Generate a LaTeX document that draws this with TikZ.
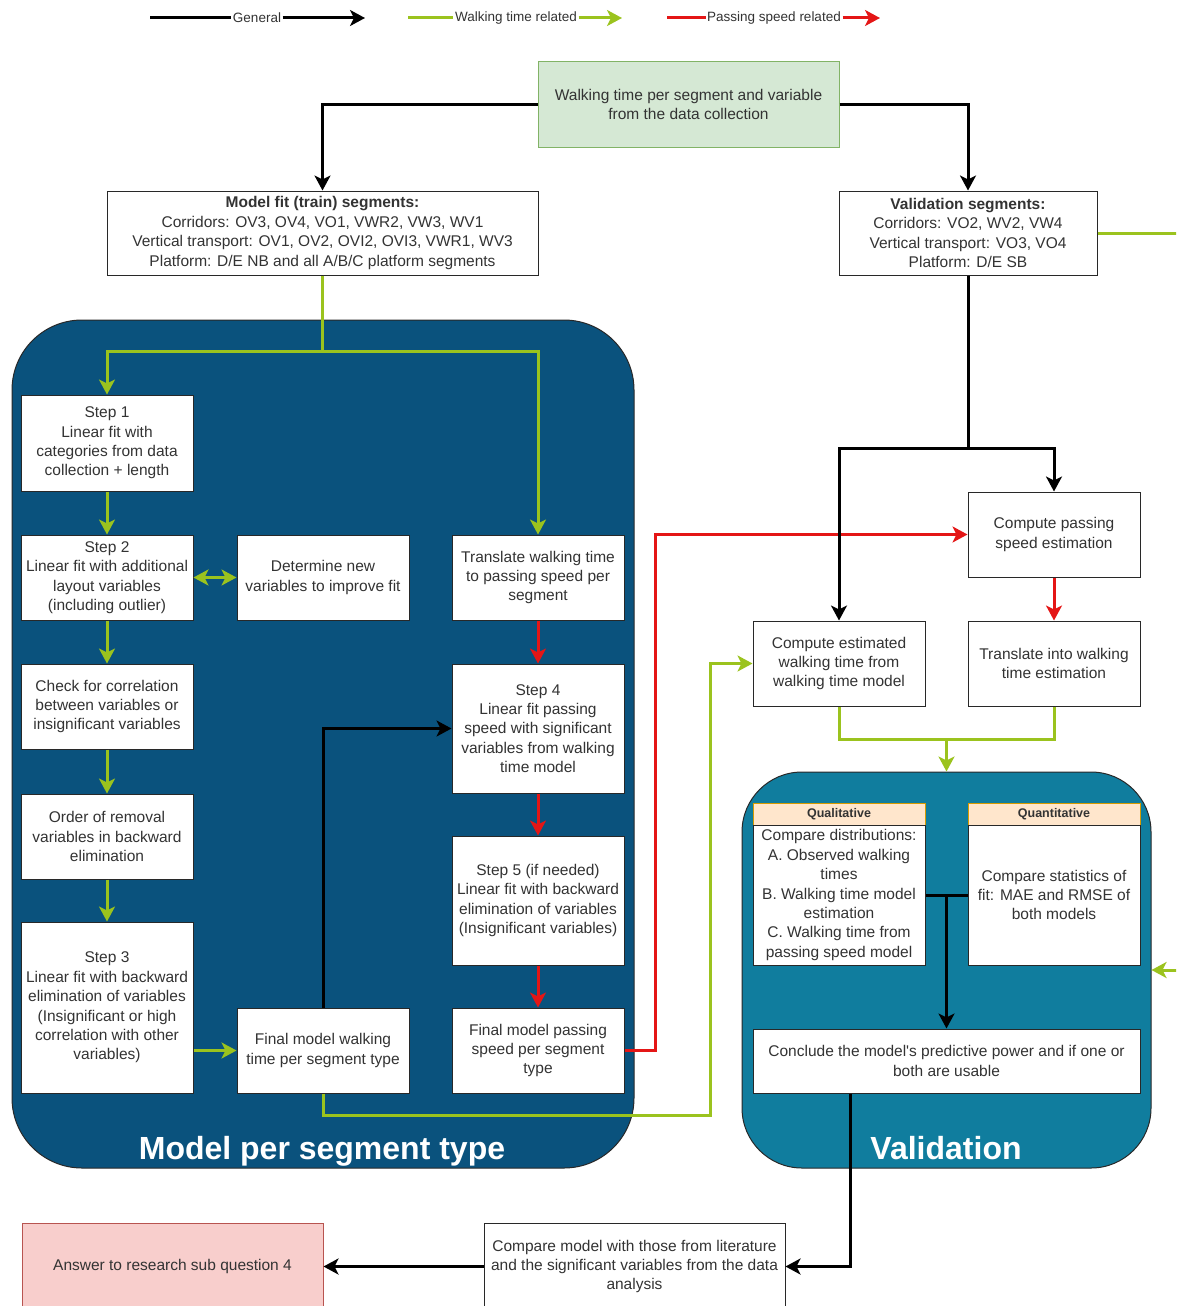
\documentclass[tikz,border=0pt]{standalone}
\usepackage{fontspec}
\setmainfont{Liberation Sans}[Ligatures=TeXOff]
\usetikzlibrary{arrows.meta,calc}
\definecolor{gr}{RGB}{155,195,30}
\definecolor{rd}{RGB}{228,22,22}
\definecolor{txt}{RGB}{51,51,51}
\definecolor{boxline}{RGB}{40,40,40}
\definecolor{lpanel}{RGB}{10,82,125}
\definecolor{vpanel}{RGB}{16,125,158}
\definecolor{srcfill}{RGB}{213,232,212}
\definecolor{srcline}{RGB}{130,179,102}
\definecolor{ansfill}{RGB}{248,206,204}
\definecolor{ansline}{RGB}{184,84,80}
\definecolor{hdfill}{RGB}{255,230,204}
\definecolor{hdline}{RGB}{215,155,0}
\tikzset{
  bx/.style={draw=boxline, fill=white, line width=1pt, align=center, inner sep=1pt,
    text=txt, font=\fontsize{15.5}{19.4}\selectfont},
  hd/.style={draw=hdline, fill=hdfill, line width=1pt, align=center, inner sep=1pt,
    text=txt, font=\bfseries\fontsize{12.5}{15}\selectfont},
  panel/.style={draw=boxline, line width=1pt},
  ptitle/.style={text=white, font=\bfseries\fontsize{32}{38}\selectfont, text height=23pt, text depth=7pt},
  legtext/.style={fill=white, inner sep=1.5pt, text=txt, font=\fontsize{13.5}{16}\selectfont},
  tip/.style={-{Stealth[length=15pt,width=16pt,inset=4pt]}},
  kline/.style={draw=black, line width=3pt},
  gline/.style={draw=gr, line width=3pt},
  rline/.style={draw=rd, line width=3pt},
  karrow/.style={kline, tip},
  garrow/.style={gline, tip},
  rarrow/.style={rline, tip},
}
\begin{document}
\begin{tikzpicture}[x=1pt,y=-1pt]
\useasboundingbox (0,0) rectangle (1176,1306);
\clip (0,0) rectangle (1176,1306);

% legend
\coordinate (l1a) at (150,18); \coordinate (l1b) at (365,18);
\coordinate (l2a) at (408,18); \coordinate (l2b) at (622,18);
\coordinate (l3a) at (667,18); \coordinate (l3b) at (880,18);
\node[legtext] (lg1) at (257,18) {General};
\node[legtext] (lg2) at (516,18) {Walking time related};
\node[legtext] (lg3) at (774,18) {Passing speed related};
\draw[kline] (l1a) -- (lg1.west);
\draw[karrow] (lg1.east) -- (l1b);
\draw[gline] (l2a) -- (lg2.west);
\draw[garrow] (lg2.east) -- (l2b);
\draw[rline] (l3a) -- (lg3.west);
\draw[rarrow] (lg3.east) -- (l3b);

% panels
\node[panel, fill=lpanel, rounded corners=70pt, minimum width=622pt, minimum height=848pt] (lpan) at (323,744) {};
\node[panel, fill=vpanel, rounded corners=60pt, minimum width=409pt, minimum height=396pt] (vpan) at (946.5,970) {};
\node[ptitle] (t1) at (322,1151) {Model per segment type};
\node[ptitle] (t2) at (946,1151) {Validation};

% top nodes
\node[bx, fill=srcfill, draw=srcline, minimum width=301pt, minimum height=85pt] (src) at (688.5,104.5)
  {Walking time per segment and variable\\from the data collection};
\node[bx, minimum width=431pt, minimum height=84pt] (train) at (322.5,233)
  {\textbf{Model fit (train) segments:}\\Corridors: OV3, OV4, VO1, VWR2, VW3, WV1\\Vertical transport: OV1, OV2, OVI2, OVI3, VWR1, WV3\\Platform: D/E NB and all A/B/C platform segments};
\node[bx, minimum width=258pt, minimum height=84pt] (val) at (968,233)
  {\textbf{Validation segments:}\\Corridors: VO2, WV2, VW4\\Vertical transport: VO3, VO4\\Platform: D/E SB};

% left panel nodes
\node[bx, minimum width=172pt, minimum height=96pt] (step1) at (107,443)
  {Step 1\\Linear fit with\\categories from data\\collection + length};
\node[bx, minimum width=172pt, minimum height=85pt] (step2) at (107,577.5)
  {Step 2\\Linear fit with additional\\layout variables\\(including outlier)};
\node[bx, minimum width=172pt, minimum height=85pt] (det) at (323,577.5)
  {Determine new\\variables to improve fit};
\node[bx, minimum width=172pt, minimum height=85pt] (corr) at (107,706.5)
  {Check for correlation\\between variables or\\insignificant variables};
\node[bx, minimum width=172pt, minimum height=85pt] (order) at (107,836.5)
  {Order of removal\\variables in backward\\elimination};
\node[bx, minimum width=172pt, minimum height=171pt] (step3) at (107,1007.5)
  {Step 3\\Linear fit with backward\\elimination of variables\\(Insignificant or high\\correlation with other\\variables)};
\node[bx, minimum width=172pt, minimum height=85pt] (finwalk) at (323,1050.5)
  {Final model walking\\time per segment type};
\node[bx, minimum width=172pt, minimum height=85pt] (trans) at (538,577.5)
  {Translate walking time\\to passing speed per\\segment};
\node[bx, minimum width=172pt, minimum height=129pt] (step4) at (538,728.5)
  {Step 4\\Linear fit passing\\speed with significant\\variables from walking\\time model};
\node[bx, minimum width=172pt, minimum height=129pt] (step5) at (538,900.5)
  {Step 5 (if needed)\\Linear fit with backward\\elimination of variables\\(Insignificant variables)};
\node[bx, minimum width=172pt, minimum height=85pt] (finpass) at (538,1050.5)
  {Final model passing\\speed per segment\\type};

% right side nodes
\node[bx, minimum width=172pt, minimum height=85pt] (cps) at (1054,534.5)
  {Compute passing\\speed estimation};
\node[bx, minimum width=172pt, minimum height=85pt] (tiw) at (1054,663.5)
  {Translate into walking\\time estimation};
\node[bx, minimum width=172pt, minimum height=85pt] (cew) at (839,663.5)
  {Compute estimated\\walking time from\\walking time model};
\node[hd, minimum width=172pt, minimum height=22pt] (qualh) at (839,814) {Qualitative};
\node[bx, minimum width=172pt, minimum height=140pt] (qualb) at (839,895)
  {Compare distributions:\\A. Observed walking\\times\\B. Walking time model\\estimation\\C. Walking time from\\passing speed model};
\node[hd, minimum width=172pt, minimum height=22pt] (quanth) at (1054,814) {Quantitative};
\node[bx, minimum width=172pt, minimum height=140pt] (quantb) at (1054,895)
  {Compare statistics of\\fit: MAE and RMSE of\\both models};
\node[bx, minimum width=387pt, minimum height=64pt] (concl) at (946.5,1061)
  {Conclude the model's predictive power and if one or\\both are usable};

% bottom nodes
\node[bx, minimum width=301pt, minimum height=87pt] (compare) at (634.5,1266.5)
  {Compare model with those from literature\\and the significant variables from the data\\analysis};
\node[bx, fill=ansfill, draw=ansline, minimum width=301pt, minimum height=87pt] (answer) at (172.5,1266.5)
  {Answer to research sub question 4};

% connectors: top
\draw[karrow] (src.west) -| (train.north);
\draw[karrow] (src.east) -| (val.north);

% green split into left panel
\coordinate (gsplit) at (322.5,351);
\draw[gline] (train.south) -- (gsplit);
\draw[garrow] (gsplit) -| (step1.north);
\draw[garrow] (gsplit) -| (trans.north);

\draw[garrow] (step1.south) -- (step2.north);
\draw[gline, {Stealth[length=15pt,width=16pt,inset=4pt]}-{Stealth[length=15pt,width=16pt,inset=4pt]}] (step2.east) -- (det.west);
\draw[garrow] (step2.south) -- (corr.north);
\draw[garrow] (corr.south) -- (order.north);
\draw[garrow] (order.south) -- (step3.north);
\draw[garrow] (step3.east |- finwalk.west) -- (finwalk.west);

\draw[karrow] (finwalk.north) |- (step4.west);
\draw[rarrow] (trans.south) -- (step4.north);
\draw[rarrow] (step4.south) -- (step5.north);
\draw[rarrow] (step5.south) -- (finpass.north);

\draw[rarrow] (finpass.east) -- ++(31,0) |- (cps.west);
\coordinate (gc) at (710,1115);
\draw[garrow] (finwalk.south) |- (gc) |- (cew.west);

% validation side
\coordinate (vsplit) at (968,448);
\draw[kline] (val.south) -- (vsplit);
\draw[karrow] (vsplit) -| (cew.north);
\draw[karrow] (vsplit) -| (cps.north);
\draw[rarrow] (cps.south) -- (tiw.north);

\coordinate (vmerge) at (946.5,739);
\draw[gline] (cew.south) |- (vmerge);
\draw[gline] (tiw.south) |- (vmerge);
\draw[garrow] (vmerge) -- (vpan.north);

\draw[garrow] (val.east) -- ++(110,0) |- (vpan.east);

\draw[kline] (qualb.east) -- (quantb.west);
\draw[karrow] (qualb.east -| concl.north) -- (concl.north);

\draw[karrow] ([xshift=-96.5pt]concl.south) |- (compare.east);
\draw[karrow] (compare.west) -- (answer.east);
\end{tikzpicture}
\end{document}
